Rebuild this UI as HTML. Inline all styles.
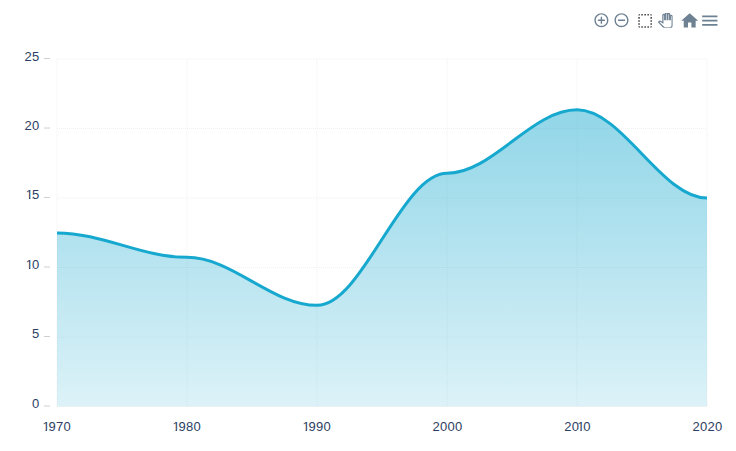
<!DOCTYPE html>
<html><head><meta charset="utf-8"><style>
html,body{margin:0;padding:0;background:#fff;width:736px;height:451px;overflow:hidden;position:relative}
svg text{font-family:"Liberation Sans",Arial,sans-serif;font-size:13px;fill:#2c3e62}
</style></head><body>
<svg style="position:absolute;left:0;top:0" width="736" height="451" viewBox="0 0 736 451">
<defs><clipPath id="c0" clipPathUnits="userSpaceOnUse"><rect x="15.80" y="169" width="36.10" height="29.0"/><rect x="15.80" y="198.0" width="10.10" height="11.0"/><rect x="28.95" y="198.0" width="1.40" height="11.0"/><rect x="32.45" y="198.0" width="19.45" height="11.0"/></clipPath><clipPath id="c1" clipPathUnits="userSpaceOnUse"><rect x="15.80" y="239" width="36.10" height="29.0"/><rect x="15.80" y="268.0" width="10.10" height="11.0"/><rect x="28.95" y="268.0" width="1.40" height="11.0"/><rect x="32.45" y="268.0" width="19.45" height="11.0"/></clipPath><clipPath id="c2" clipPathUnits="userSpaceOnUse"><rect x="32.40" y="401" width="51.10" height="29.0"/><rect x="32.40" y="430.0" width="10.10" height="11.0"/><rect x="45.55" y="430.0" width="1.40" height="11.0"/><rect x="49.05" y="430.0" width="34.45" height="11.0"/></clipPath><clipPath id="c3" clipPathUnits="userSpaceOnUse"><rect x="162.40" y="401" width="51.10" height="29.0"/><rect x="162.40" y="430.0" width="10.10" height="11.0"/><rect x="175.55" y="430.0" width="1.40" height="11.0"/><rect x="179.05" y="430.0" width="34.45" height="11.0"/></clipPath><clipPath id="c4" clipPathUnits="userSpaceOnUse"><rect x="292.40" y="401" width="51.10" height="29.0"/><rect x="292.40" y="430.0" width="10.10" height="11.0"/><rect x="305.55" y="430.0" width="1.40" height="11.0"/><rect x="309.05" y="430.0" width="34.45" height="11.0"/></clipPath><clipPath id="c5" clipPathUnits="userSpaceOnUse"><rect x="554.30" y="401" width="49.00" height="29.0"/><rect x="554.30" y="430.0" width="23.00" height="11.0"/><rect x="580.35" y="430.0" width="1.40" height="11.0"/><rect x="583.85" y="430.0" width="19.45" height="11.0"/></clipPath><clipPath id="pc"><rect x="0" y="0" width="24" height="24"/></clipPath><linearGradient id="g" x1="0" y1="0" x2="0" y2="1"><stop offset="0" stop-color="#16a8ce" stop-opacity="0.47"/><stop offset="1" stop-color="#16a8ce" stop-opacity="0.15"/></linearGradient></defs>
<line x1="57" y1="59.0" x2="707" y2="59.0" stroke="#f0f0f0" stroke-dasharray="1 1"/><line x1="57" y1="128.5" x2="707" y2="128.5" stroke="#f0f0f0" stroke-dasharray="1 1"/><line x1="57" y1="198.0" x2="707" y2="198.0" stroke="#f0f0f0" stroke-dasharray="1 1"/><line x1="57" y1="267.5" x2="707" y2="267.5" stroke="#f0f0f0" stroke-dasharray="1 1"/><line x1="57" y1="337.0" x2="707" y2="337.0" stroke="#f0f0f0" stroke-dasharray="1 1"/><line x1="57" y1="406.5" x2="707" y2="406.5" stroke="#f0f0f0" stroke-dasharray="1 1"/><line x1="57" y1="59" x2="57" y2="406.5" stroke="#f0f0f0" stroke-dasharray="1 1"/><line x1="187" y1="59" x2="187" y2="406.5" stroke="#f0f0f0" stroke-dasharray="1 1"/><line x1="317" y1="59" x2="317" y2="406.5" stroke="#f0f0f0" stroke-dasharray="1 1"/><line x1="447" y1="59" x2="447" y2="406.5" stroke="#f0f0f0" stroke-dasharray="1 1"/><line x1="577" y1="59" x2="577" y2="406.5" stroke="#f0f0f0" stroke-dasharray="1 1"/><line x1="707" y1="59" x2="707" y2="406.5" stroke="#f0f0f0" stroke-dasharray="1 1"/>
<path d="M 57.00 232.89 C 102.50 232.89 141.50 257.35 187.00 257.35 C 232.50 257.35 271.50 305.31 317.00 305.31 C 362.50 305.31 401.50 173.26 447.00 173.26 C 492.50 173.26 531.50 109.87 577.00 109.87 C 622.50 109.87 661.50 198.00 707.00 198.00 L 707.00 406.50 L 57.00 406.50 Z" fill="url(#g)"/>
<path d="M 57.00 232.89 C 102.50 232.89 141.50 257.35 187.00 257.35 C 232.50 257.35 271.50 305.31 317.00 305.31 C 362.50 305.31 401.50 173.26 447.00 173.26 C 492.50 173.26 531.50 109.87 577.00 109.87 C 622.50 109.87 661.50 198.00 707.00 198.00" fill="none" stroke="#16a8ce" stroke-width="3" stroke-linecap="butt"/>
<text x="24.40 31.90" y="61">25</text><line x1="44" y1="58.5" x2="50" y2="58.5" stroke="#d0d0d0"/><text x="24.40 31.90" y="130">20</text><line x1="44" y1="128.0" x2="50" y2="128.0" stroke="#d0d0d0"/><text x="25.80 31.90" y="199" clip-path="url(#c0)">15</text><line x1="44" y1="197.5" x2="50" y2="197.5" stroke="#d0d0d0"/><text x="25.80 31.90" y="269" clip-path="url(#c1)">10</text><line x1="44" y1="267.0" x2="50" y2="267.0" stroke="#d0d0d0"/><text x="31.90" y="338">5</text><line x1="44" y1="336.5" x2="50" y2="336.5" stroke="#d0d0d0"/><text x="31.90" y="408">0</text><line x1="44" y1="406.0" x2="50" y2="406.0" stroke="#d0d0d0"/>
<text x="42.40 48.50 56.00 63.50" y="431" clip-path="url(#c2)">1970</text><text x="172.40 178.50 186.00 193.50" y="431" clip-path="url(#c3)">1980</text><text x="302.40 308.50 316.00 323.50" y="431" clip-path="url(#c4)">1990</text><text x="432.55 440.05 447.55 455.05" y="431">2000</text><text x="564.30 571.80 577.20 583.30" y="431" clip-path="url(#c5)">2010</text><text x="692.55 700.05 707.55 715.05" y="431">2020</text>
<g transform="translate(593.0 11.8) scale(0.7)" fill="#6E8192"><path d="M13 7h-2v4H7v2h4v4h2v-4h4v-2h-4V7zm-1-5C6.48 2 2 6.48 2 12s4.480 10 10 10 10-4.48 10-10S17.52 2 12 2zm0 18c-4.41 0-8-3.59-8-8s3.59-8 8-8 8 3.59 8 8-3.59 8-8 8z"/></g><g transform="translate(613.1 11.8) scale(0.7)" fill="#6E8192"><path d="M7 11v2h10v-2H7zm5-9C6.48 2 2 6.48 2 12s4.48 10 10 10 10-4.48 10-10S17.52 2 12 2zm0 18c-4.41 0-8-3.59-8-8s3.59-8 8-8 8 3.59 8 8-3.59 8-8 8z"/></g><g transform="translate(636.0 11.8) scale(0.76)" fill="#444"><path d="M3 5h2V3c-1.1 0-2 .9-2 2zm0 8h2v-2H3v2zm4 8h2v-2H7v2zM3 9h2V7H3v2zm10-6h-2v2h2V3zm6 0v2h2c0-1.1-.9-2-2-2zM5 21v-2H3c0 1.1.9 2 2 2zm-2-4h2v-2H3v2zM9 3H7v2h2V3zm2 18h2v-2h-2v2zm8-8h2v-2h-2v2zm0 8c1.1 0 2-.9 2-2h-2v2zm0-12h2V7h-2v2zm0 8h2v-2h-2v2zm-4 4h2v-2h-2v2zm0-16h2V3h-2v2z"/></g><g transform="translate(657.9 12.9) scale(0.62)" fill="#fff" stroke="#6E8192" stroke-width="2" clip-path="url(#pc)"><path d="M23 5.5V20c0 2.2-1.8 4-4 4h-7.3c-1.08 0-2.1-.43-2.85-1.19L1 14.83s1.26-1.23 1.3-1.25c.22-.19.49-.29.79-.29.22 0 .42.06.6.16.04.01 4.31 2.46 4.31 2.46V4c0-.83.67-1.5 1.5-1.5S11 3.17 11 4v7h1V1.5c0-.83.67-1.5 1.5-1.5S15 .67 15 1.5V11h1V2.5c0-.83.67-1.5 1.5-1.5s1.5.67 1.5 1.5V11h1V5.5c0-.83.67-1.5 1.5-1.5s1.5.67 1.5 1.5z"/></g><g transform="translate(679.5 10.6) scale(0.85)" fill="#6E8192"><path d="M10 20v-6h4v6h5v-8h3L12 3 2 12h3v8z"/></g><g transform="translate(699.6 10.5) scale(0.85)" fill="#6E8192"><path d="M3 18h18v-2H3v2zm0-5h18v-2H3v2zm0-7v2h18V6H3z"/></g>
</svg>
</body></html>
